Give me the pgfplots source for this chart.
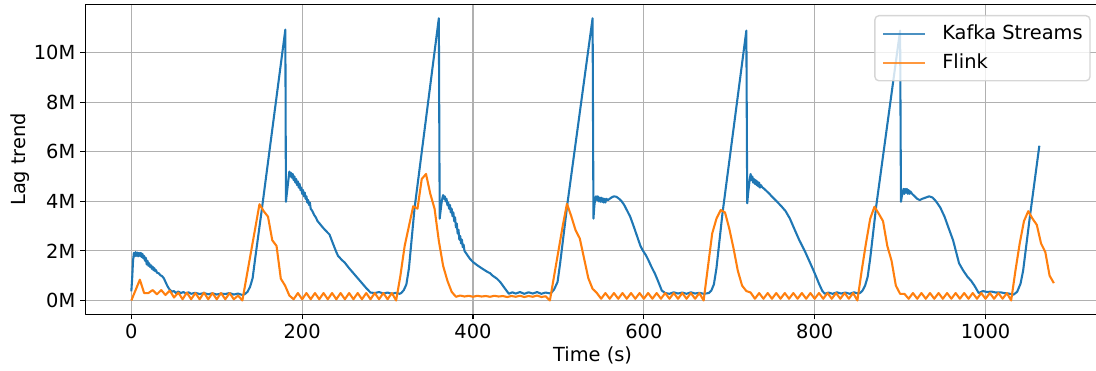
\documentclass[border=0pt]{standalone}
\usepackage{fontspec}
\setmainfont{DejaVu Sans}
\usepackage{pgfplots}
\usepackage{pgfplotstable}
\pgfplotsset{compat=1.18}
\definecolor{mblue}{HTML}{1F77B4}
\definecolor{morange}{HTML}{FF7F0E}
\definecolor{gridgray}{HTML}{B0B0B0}
\definecolor{legendgray}{HTML}{CCCCCC}
\pgfplotstableread{
t v
0 0.37
1 0.9
2 1.6
3 1.92
4 1.78
5 1.95
6 1.8
7 1.93
8 1.78
9 1.92
10 1.8
11 1.92
12 1.75
13 1.88
14 1.7
15 1.8
16 1.6
17 1.72
18 1.45
19 1.6
20 1.4
21 1.5
22 1.35
23 1.42
24 1.28
25 1.36
26 1.22
27 1.3
28 1.18
29 1.22
30 1.12
32 1.1
34 1.02
36 0.98
38 0.9
40 0.75
42 0.6
44 0.48
46 0.4
48 0.36
50 0.38
52 0.3
55 0.36
58 0.3
61 0.34
64 0.28
67 0.33
70 0.27
75 0.31
80 0.26
85 0.3
90 0.25
95 0.29
100 0.24
105 0.28
110 0.26
115 0.3
120 0.24
125 0.28
130 0.22
133 0.26
136 0.35
139 0.55
142 0.9
145 1.7
152.5 3.6
180.3 10.92
181 3.98
182 4.3
183 4.6
184 4.9
185 5.2
186 5.0
187 5.15
188 4.95
189 5.1
190 4.85
191 5.0
192 4.75
193 4.9
194 4.65
195 4.8
196 4.55
197 4.7
198 4.45
199 4.55
200 4.3
201 4.45
202 4.2
203 4.35
204 4.1
205 4.2
206 3.95
207 4.05
208 3.85
209 3.95
210 3.7
212 3.6
214 3.45
216 3.35
218 3.2
220 3.12
224 2.95
228 2.8
232 2.66
236 2.3
240 1.95
242 1.8
246 1.65
250 1.52
255 1.3
260 1.1
265 0.9
270 0.7
275 0.5
280 0.32
285 0.3
290 0.34
295 0.28
300 0.32
305 0.27
310 0.31
314 0.27
316 0.3
319 0.42
322 0.65
325 1.3
331.5 3.7
360 11.38
361 3.3
362 3.6
363 3.9
364 4.1
365 4.25
366 4.1
367 4.2
368 4.0
369 4.1
370 3.85
371 3.95
372 3.7
373 3.85
374 3.55
375 3.7
376 3.4
377 3.55
378 3.2
379 3.35
380 2.95
381 3.1
382 2.7
383 2.85
384 2.45
385 2.6
386 2.3
387 2.45
388 2.15
389 2.25
390 2.0
392 1.9
394 1.8
396 1.7
398 1.62
400 1.55
405 1.42
411 1.28
417 1.15
420 1.1
423 1.0
428 0.88
432 0.74
437 0.5
442 0.27
446 0.33
450 0.28
455 0.34
460 0.27
465 0.33
470 0.28
475 0.34
480 0.27
485 0.32
491 0.28
495 0.45
499 0.75
502 1.5
510.5 3.9
540 11.38
541 3.3
542 3.8
543 4.1
544 4.2
545 4.05
546 4.2
547 4.0
548 4.15
549 3.98
550 4.15
551 3.98
552 4.12
553 3.95
554 4.1
555 3.95
556 4.1
558 4.05
560 4.1
562 4.15
565 4.2
568 4.18
571 4.1
574 4.0
577 3.85
580 3.65
584 3.38
588 3.0
592 2.6
596 2.2
599 2.0
602 1.85
605 1.65
609 1.35
613 1.08
617 0.75
621 0.4
625 0.3
630 0.27
635 0.33
640 0.28
645 0.32
650 0.27
655 0.33
660 0.28
665 0.31
670 0.27
676 0.3
679 0.4
682 0.65
685 1.3
692 3.5
720 10.88
721 3.92
722 4.3
723 4.6
724 4.9
725 5.1
726 4.85
727 5.0
728 4.75
729 4.9
730 4.7
731 4.85
732 4.65
733 4.8
734 4.6
735 4.75
736 4.55
737 4.65
739 4.55
741 4.5
744 4.4
747 4.3
751 4.15
756 3.98
761 3.8
766 3.6
771 3.3
776 2.9
782 2.43
789 1.95
795 1.49
800 1.1
805 0.68
809 0.38
812 0.27
816 0.32
821 0.27
826 0.33
831 0.28
836 0.32
841 0.27
846 0.33
850 0.29
853 0.3
856 0.4
859 0.6
862 0.95
865 1.7
872 3.8
900 10.88
901 3.98
902 4.2
903 4.35
904 4.5
905 4.3
906 4.5
907 4.35
908 4.5
909 4.3
910 4.45
911 4.3
912 4.4
914 4.3
917 4.2
920 4.1
923 4.05
926 4.1
930 4.15
934 4.2
938 4.15
942 4.0
947 3.75
952 3.38
957 2.9
962 2.43
966 1.9
969 1.5
974 1.2
979 0.95
983 0.8
987 0.6
992 0.3
997 0.38
1002 0.34
1007 0.36
1012 0.32
1017 0.33
1022 0.3
1027 0.28
1033 0.24
1037 0.35
1041 0.68
1044 1.2
1052 3.4
1063 6.24
}\kafka
\pgfplotstableread{
t v
0 0
10 0.84
15 0.3
20 0.3
25 0.42
30 0.25
35 0.42
40 0.22
45 0.4
50 0.12
55 0.32
60 0.05
65 0.32
70 0.05
75 0.3
80 0.05
85 0.32
90 0.05
95 0.3
100 0.05
105 0.3
110 0.05
115 0.3
120 0.05
125 0.2
130 0.0
135 0.97
140 1.94
145 2.9
150 3.88
155 3.6
160 3.38
165 2.43
170 2.2
175 0.88
180 0.6
185 0.2
190 0.05
195 0.3
200 0.05
205 0.3
210 0.05
215 0.3
220 0.05
225 0.3
230 0.05
235 0.3
240 0.05
245 0.3
250 0.05
255 0.3
260 0.05
265 0.3
270 0.05
275 0.3
280 0.05
285 0.3
290 0.05
295 0.3
300 0.05
305 0.3
310 0
315 1.0
320 2.2
325 3.0
330 3.8
335 3.7
340 4.9
345 5.1
350 4.3
355 3.7
360 2.4
365 1.4
370 0.8
375 0.35
380 0.15
385 0.2
390 0.16
395 0.19
400 0.15
405 0.19
410 0.16
415 0.18
420 0.15
425 0.19
430 0.16
435 0.18
440 0.14
445 0.18
450 0.15
455 0.19
460 0.14
465 0.18
470 0.15
475 0.2
480 0.14
485 0.17
490 0
495 1.0
500 2.0
505 3.0
510 3.9
515 3.4
520 2.84
525 2.5
530 1.7
535 0.9
540 0.47
545 0.3
550 0.07
555 0.3
560 0.07
565 0.3
570 0.07
575 0.3
580 0.07
585 0.3
590 0.07
595 0.3
600 0.07
605 0.3
610 0.07
615 0.3
620 0.07
625 0.3
630 0.07
635 0.3
640 0.07
645 0.3
650 0.07
655 0.3
660 0.07
665 0.3
670 0
675 1.35
680 2.7
685 3.3
690 3.65
695 3.55
700 2.9
705 2.1
710 1.2
715 0.6
720 0.38
725 0.32
730 0.07
735 0.3
740 0.07
745 0.3
750 0.07
755 0.3
760 0.07
765 0.3
770 0.07
775 0.3
780 0.07
785 0.3
790 0.07
795 0.3
800 0.07
805 0.3
810 0.07
815 0.3
820 0.07
825 0.3
830 0.07
835 0.3
840 0.07
845 0.3
850 0
855 1.2
860 2.3
865 3.3
870 3.78
875 3.5
880 3.2
885 2.2
890 1.6
895 0.6
900 0.27
905 0.27
910 0.07
915 0.3
920 0.07
925 0.3
930 0.07
935 0.3
940 0.07
945 0.3
950 0.07
955 0.3
960 0.07
965 0.3
970 0.07
975 0.3
980 0.07
985 0.3
990 0.07
995 0.3
1000 0.07
1005 0.3
1010 0.07
1015 0.3
1020 0.07
1025 0.3
1030 0
1035 1.2
1040 2.3
1045 3.2
1050 3.6
1055 3.3
1060 3.05
1065 2.3
1070 1.95
1075 1.0
1080 0.7
}\flink
\begin{document}
\fontsize{19.4}{23}\selectfont
\begin{tikzpicture}[x=1pt,y=1pt]
\begin{axis}[
  at={(85.2pt,55.4pt)}, anchor=south west,
  scale only axis, width=1014.8pt, height=310.5pt,
  xmin=-54, xmax=1134, ymin=-0.569, ymax=11.95,
  xtick={0,200,400,600,800,1000},
  xticklabels={0,200,400,600,800,1000},
  ytick={0,2,4,6,8,10},
  yticklabels={0M,2M,4M,6M,8M,10M},
  grid=major,
  major grid style={draw=gridgray, line width=1.1pt},
  axis line style={line width=1.1pt},
  every tick/.style={black, line width=1.1pt},
  tick align=outside, major tick length=4.86pt,
  tick pos=left,
  xticklabel style={inner sep=0pt, anchor=north, yshift=-4.86pt},
  yticklabel style={inner sep=0pt, anchor=east, xshift=-4.86pt},
  xlabel={Time (s)},
  ylabel={Lag trend},
  xlabel style={at={(axis description cs:0.5,-0.151)}, anchor=base, inner sep=0pt},
  ylabel style={at={(axis description cs:-0.0642,0.5)}, anchor=center, inner sep=0pt},
  legend style={at={(axis description cs:0.9908,0.9649)}, anchor=north east,
    draw=legendgray, line width=1.39pt, rounded corners=4pt,
    fill=white, fill opacity=0.8, text opacity=1, draw opacity=0.8,
    inner xsep=7.3pt, inner ysep=9.3pt,
    nodes={inner sep=0pt, text height=14.7pt, text depth=2.5pt},
    column sep=16pt, row sep=12.1pt},
  legend cell align=left,
  legend image code/.code={\draw[#1, line width=2.08pt] (0pt,0pt) -- (42pt,0pt);},
  line join=round,
]
\addplot[mblue, line width=2.08pt] table[x=t,y=v] {\kafka};
\addlegendentry{Kafka Streams\hspace{9pt}}
\addplot[morange, line width=2.08pt] table[x=t,y=v] {\flink};
\addlegendentry{Flink}
\end{axis}
\pgfresetboundingbox
\useasboundingbox (0,0) rectangle (1096,370);
\end{tikzpicture}
\end{document}
